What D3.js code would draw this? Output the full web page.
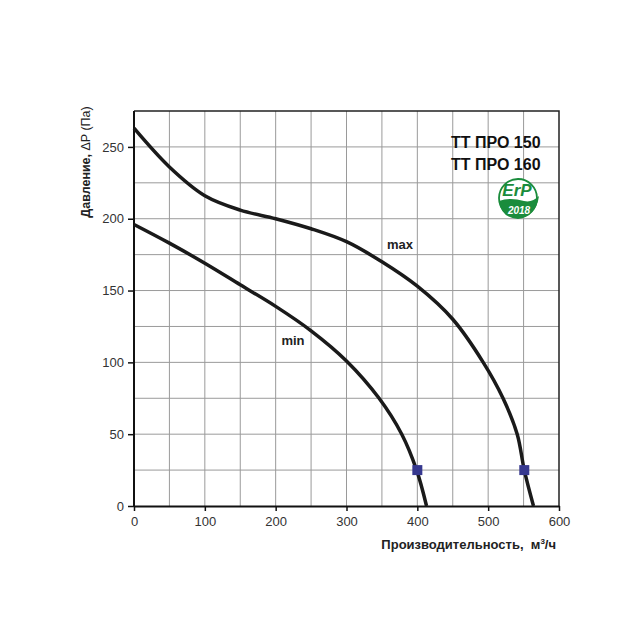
<!DOCTYPE html>
<html>
  <head>
    <meta charset="utf-8">
    <title>TT PRO 150/160</title>
    <script type="text/javascript" src="https://d3js.org/d3.v7.min.js"></script>
    <style>
      body { margin: 0; background: #fff; }
      text { font-family: "Liberation Sans", Arial, sans-serif; }
    </style>
  </head>
  <body>
    <svg width="640" height="640" class="chart"></svg>

    <script type="text/javascript">
      // curve points: [airflow m3/h, pressure Pa]
      var maxCurve = [[0, 263], [50, 236], [100, 216], [150, 206], [200, 200], [250, 193],
                      [300, 184], [350, 170], [400, 153], [450, 130], [493, 100],
                      [521, 75], [541, 50], [551, 25], [564, 0]];
      var minCurve = [[0, 196], [50, 183], [100, 169], [150, 154], [200, 139], [250, 122],
                      [300, 101], [346, 75], [378, 50], [399, 25], [413, 0]];
      var markers = [[400, 25], [551, 25]];
      var xTicks = [0, 100, 200, 300, 400, 500, 600];
      var yTicks = [0, 50, 100, 150, 200, 250];
      var titleLines = ['ТТ ПРО 150', 'ТТ ПРО 160'];

      var svg = d3.select('svg.chart');
      var x = d3.scaleLinear().domain([0, 600]).range([134, 559]);
      var y = d3.scaleLinear().domain([0, 275]).range([506, 111]);

      // grid
      var grid = svg.append('g').attr('stroke', '#9a9a9a').attr('stroke-width', 1);
      grid.selectAll('line.vx')
          .data(d3.range(50, 600, 50))
          .enter().append('line')
          .attr('x1', function(d) { return x(d); }).attr('x2', function(d) { return x(d); })
          .attr('y1', y(0)).attr('y2', y(275));
      grid.selectAll('line.hy')
          .data(d3.range(25, 275, 25))
          .enter().append('line')
          .attr('y1', function(d) { return y(d); }).attr('y2', function(d) { return y(d); })
          .attr('x1', x(0)).attr('x2', x(600));

      // frame (top + right)
      svg.append('path')
         .attr('d', 'M' + x(0) + ',' + y(275) + 'H' + x(600) + 'V' + y(0))
         .attr('fill', 'none').attr('stroke', '#222').attr('stroke-width', 1.5);

      var xAxis = svg.append('g')
         .attr('transform', 'translate(0,' + y(0) + ')')
         .call(d3.axisBottom(x).tickValues(xTicks).tickSize(5).tickSizeOuter(0).tickPadding(6));
      var yAxis = svg.append('g')
         .attr('transform', 'translate(' + x(0) + ',0)')
         .call(d3.axisLeft(y).tickValues(yTicks).tickSize(6).tickSizeOuter(0).tickPadding(4));
      [xAxis, yAxis].forEach(function(a) {
        a.select('.domain').attr('stroke', '#111').attr('stroke-width', 2);
        a.selectAll('.tick line').attr('stroke', '#111').attr('stroke-width', 1.5);
        a.selectAll('.tick text').attr('fill', '#333')
         .style('font-family', '"Liberation Sans", Arial, sans-serif').style('font-size', '13px');
      });
      yAxis.select('.domain').attr('d', 'M0,' + y(275) + 'V' + y(0));

      // curves
      var line = d3.line()
                   .x(function(d) { return x(d[0]); })
                   .y(function(d) { return y(d[1]); })
                   .curve(d3.curveCatmullRom.alpha(0.5));
      svg.selectAll('path.curve')
         .data([maxCurve, minCurve])
         .enter().append('path')
         .attr('class', 'curve')
         .attr('d', line)
         .attr('fill', 'none')
         .attr('stroke', '#1a1a1a')
         .attr('stroke-width', 3.5);

      svg.selectAll('rect.mark')
         .data(markers)
         .enter().append('rect')
         .attr('x', function(d) { return x(d[0]) - 5; })
         .attr('y', function(d) { return y(d[1]) - 5; })
         .attr('width', 10).attr('height', 10)
         .attr('fill', '#36388f');

      // curve labels
      svg.append('text').attr('x', 400).attr('y', 249).attr('text-anchor', 'middle')
         .style('font-size', '13px').style('font-weight', 'bold').attr('fill', '#222').text('max');
      svg.append('text').attr('x', 293).attr('y', 345).attr('text-anchor', 'middle')
         .style('font-size', '13px').style('font-weight', 'bold').attr('fill', '#222').text('min');

      // model title
      svg.selectAll('text.title')
         .data(titleLines)
         .enter().append('text')
         .attr('class', 'title')
         .attr('x', 451)
         .attr('y', function(d, i) { return 148 + i * 22; })
         .style('font-size', '16px').style('font-weight', 'bold').attr('fill', '#111')
         .text(function(d) { return d; });

      // ErP 2018 badge
      var erp = svg.append('g').attr('transform', 'translate(518,198)');
      erp.append('circle').attr('r', 19).attr('fill', '#fff').attr('stroke', '#1a8c3c').attr('stroke-width', 1.8);
      erp.append('path')
         .attr('d', 'M-19,3 Q-8,-1 6,3 Q14,5 21,-2 Q18,19 0,21 Q-17,20 -19,3 Z')
         .attr('fill', '#1a8c3c');
      erp.append('text').attr('x', -1).attr('y', -2).attr('text-anchor', 'middle')
         .style('font-size', '17px').style('font-weight', 'bold').style('font-style', 'italic')
         .attr('fill', '#1a8c3c').text('ErP');
      erp.append('text').attr('x', 1).attr('y', 16).attr('text-anchor', 'middle')
         .style('font-size', '10px').style('font-weight', 'bold').style('font-style', 'italic')
         .attr('fill', '#fff').text('2018');

      // axis titles
      var yt = svg.append('text')
         .attr('transform', 'translate(90,162) rotate(-90)')
         .attr('text-anchor', 'middle')
         .style('font-size', '12.5px').attr('fill', '#222');
      yt.append('tspan').style('font-weight', 'bold').text('Давление,');
      yt.append('tspan').text(' ΔP (Па)');
      var xt = svg.append('text')
         .attr('x', 556).attr('y', 549).attr('text-anchor', 'end')
         .attr('xml:space', 'preserve')
         .style('font-size', '13px').style('font-weight', 'bold').attr('fill', '#222');
      xt.append('tspan').text('Производительность,\u00a0 м');
      xt.append('tspan').attr('dy', -5).style('font-size', '8px').text('3');
      xt.append('tspan').attr('dy', 5).text('/ч');
    </script>
  </body>
</html>
